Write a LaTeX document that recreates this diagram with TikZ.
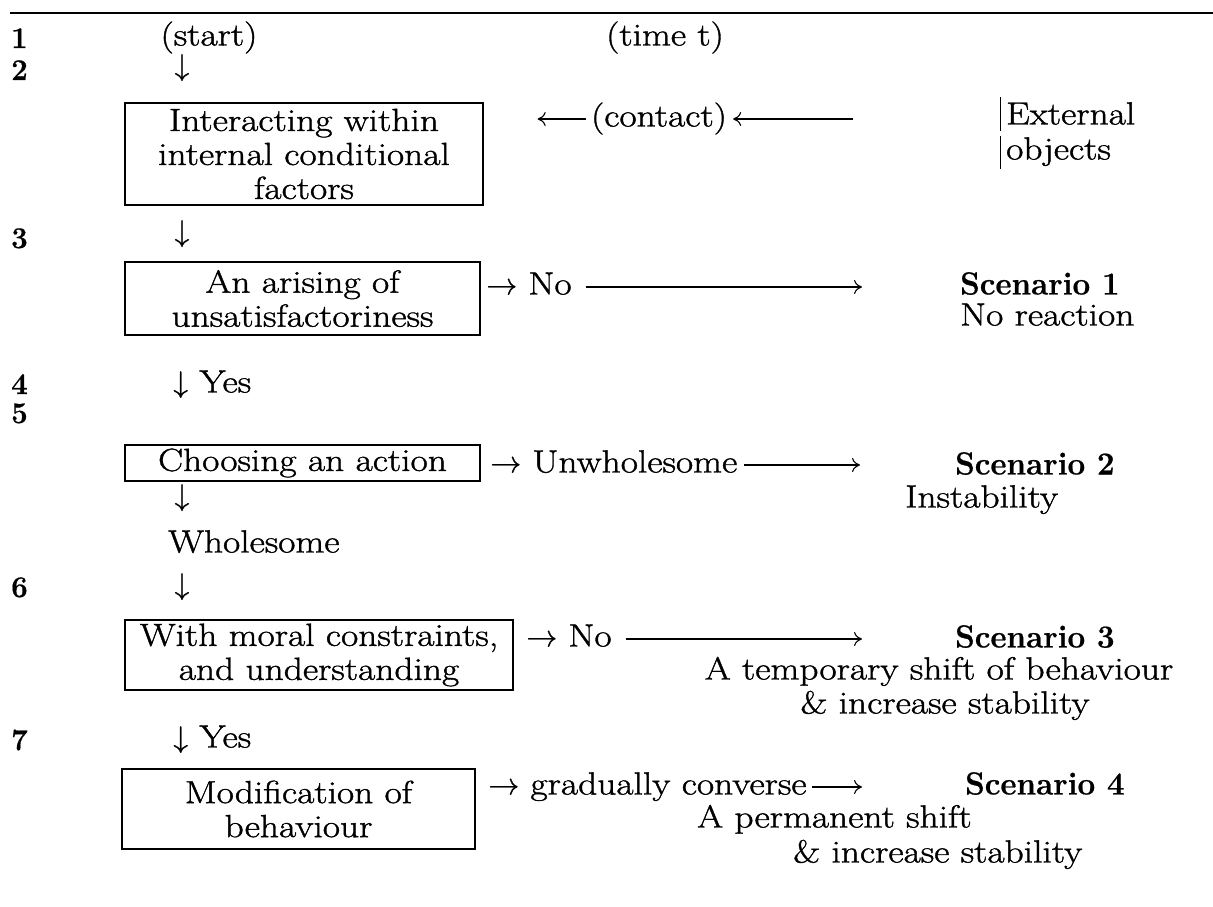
\documentclass[tikz,border=0pt]{standalone}
\usepackage{fontspec}
\setmainfont{Latin Modern Roman}[FakeStretch=1.17, FakeBold=1.2]
\newfontfamily\scfont{Latin Modern Roman}[FakeStretch=0.98, FakeBold=0.6]
\newfontfamily\arrfont{Latin Modern Math}[FakeBold=0.8]
\usetikzlibrary{arrows.meta}
\newcommand{\darr}{{\fontsize{30}{30}\arrfont ↓}}
\newcommand{\rarr}{{\fontsize{31}{31}\arrfont →}}
\begin{document}
\begin{tikzpicture}[x=1pt,y=-1pt,
  every node/.style={font=\fontsize{32}{34}\selectfont, inner sep=0pt},
  lbl/.style={anchor=west, text height=22pt, text depth=7pt},
  ctr/.style={text height=22pt, text depth=7pt},
  scen/.style={anchor=west, text height=22pt, text depth=7pt, font=\fontsize{32}{34}\selectfont\scfont\bfseries},
  num/.style={anchor=west, text height=20pt, text depth=0pt, font=\fontsize{30}{32}\selectfont\scfont\bfseries},
  stepbox/.style={draw, line width=1.3pt, align=center, inner sep=0pt},
  conn/.style={line width=1.1pt, -{To[length=8pt,width=14pt]}},
  bar/.style={line width=1pt}]
\useasboundingbox (0,0) rectangle (1213,907);
\draw[line width=2pt] (10,13) -- (1213,13);
% row numbers
\node[num] (n1) at (11,38) {1};
\node[num] (n2) at (11,70) {2};
\node[num] (n3) at (11,238) {3};
\node[num] (n4) at (11,384) {4};
\node[num] (n5) at (11,413) {5};
\node[num] (n6) at (11,587) {6};
\node[num] (n7) at (11,740) {7};
% header
\node[ctr] (start) at (209,38) {(start)};
\node[ctr] (time) at (665,38) {(time t)};
\node[ctr] (d2) at (182,68) {\darr};
% box 1
\node[stepbox, minimum width=358pt, minimum height=102pt] (b1) at (304,154)
  {Interacting within\\internal conditional\\factors};
\node[ctr] (contact) at (659,119) {(contact)};
\coordinate (extfrom) at (853,119);
\draw[conn, shorten <=5pt, shorten >=54pt] (contact.west) -- (b1.east |- contact.west);
\draw[conn, shorten >=6pt] (extfrom) -- (contact.east);
\node[lbl] (ext1) at (1006,117) {External};
\node[lbl] (ext2) at (1006,152) {objects};
\draw[bar] ([xshift=-6pt,yshift=5pt]ext1.north west) -- ([xshift=-6pt,yshift=1pt]ext1.south west);
\draw[bar] ([xshift=-6pt,yshift=1pt]ext2.north west) -- ([xshift=-6pt,yshift=-2pt]ext2.south west);
% box 2
\node[ctr] (d3) at (182,234) {\darr};
\node[stepbox, minimum width=355pt, minimum height=73pt] (b2) at (302.5,298.5)
  {An arising of\\unsatisfactoriness};
\node[lbl] (no1) at (486,287) {\rarr\ No};
\node[scen] (sc1) at (960,287) {Scenario 1};
\node[lbl] (sc1b) at (960,318) {No reaction};
\coordinate (no1end) at (862,287);
\draw[conn, shorten <=14pt] (no1.east) -- (no1end);
% yes
\node[lbl] (yes1) at (173,385) {\darr\ Yes};
% box 3
\node[stepbox, minimum width=355pt, minimum height=36pt] (b3) at (302.5,463)
  {Choosing an action};
\node[lbl] (unw) at (490,465) {\rarr\ Unwholesome};
\coordinate (unwend) at (860,465);
\draw[conn, shorten <=7pt] (unw.east) -- (unwend);
\node[scen] (sc2) at (955,467) {Scenario 2};
\node[lbl] (sc2b) at (905,500) {Instability};
\node[ctr] (d5) at (182,498) {\darr};
\node[lbl] (whole) at (168,545) {Wholesome};
\node[ctr] (d6) at (182,587) {\darr};
% box 4
\node[stepbox, minimum width=388pt, minimum height=70pt] (b4) at (319,655)
  {With moral constraints,\\and understanding};
\node[lbl] (no2) at (526,639) {\rarr\ No};
\coordinate (no2end) at (862,639);
\draw[conn, shorten <=14pt] (no2.east) -- (no2end);
\node[scen] (sc3) at (955,640) {Scenario 3};
\node[ctr] (sc3b) at (939,672) {A temporary shift of behaviour};
\node[ctr] (sc3c) at (945,706) {\& increase stability};
% yes 2
\node[lbl] (yes2) at (173,740) {\darr\ Yes};
% box 5
\node[stepbox, minimum width=353pt, minimum height=80pt] (b5) at (298.5,809)
  {Modification of\\behaviour};
\node[lbl] (grad) at (488,787) {\rarr\ gradually converse};
\coordinate (gradend) at (862,787);
\draw[conn, shorten <=5pt] (grad.east) -- (gradend);
\node[scen] (sc4) at (965,787) {Scenario 4};
\node[lbl] (sc4b) at (697,820) {A permanent shift};
\node[lbl] (sc4c) at (793,855) {\& increase stability};
\end{tikzpicture}
\end{document}
